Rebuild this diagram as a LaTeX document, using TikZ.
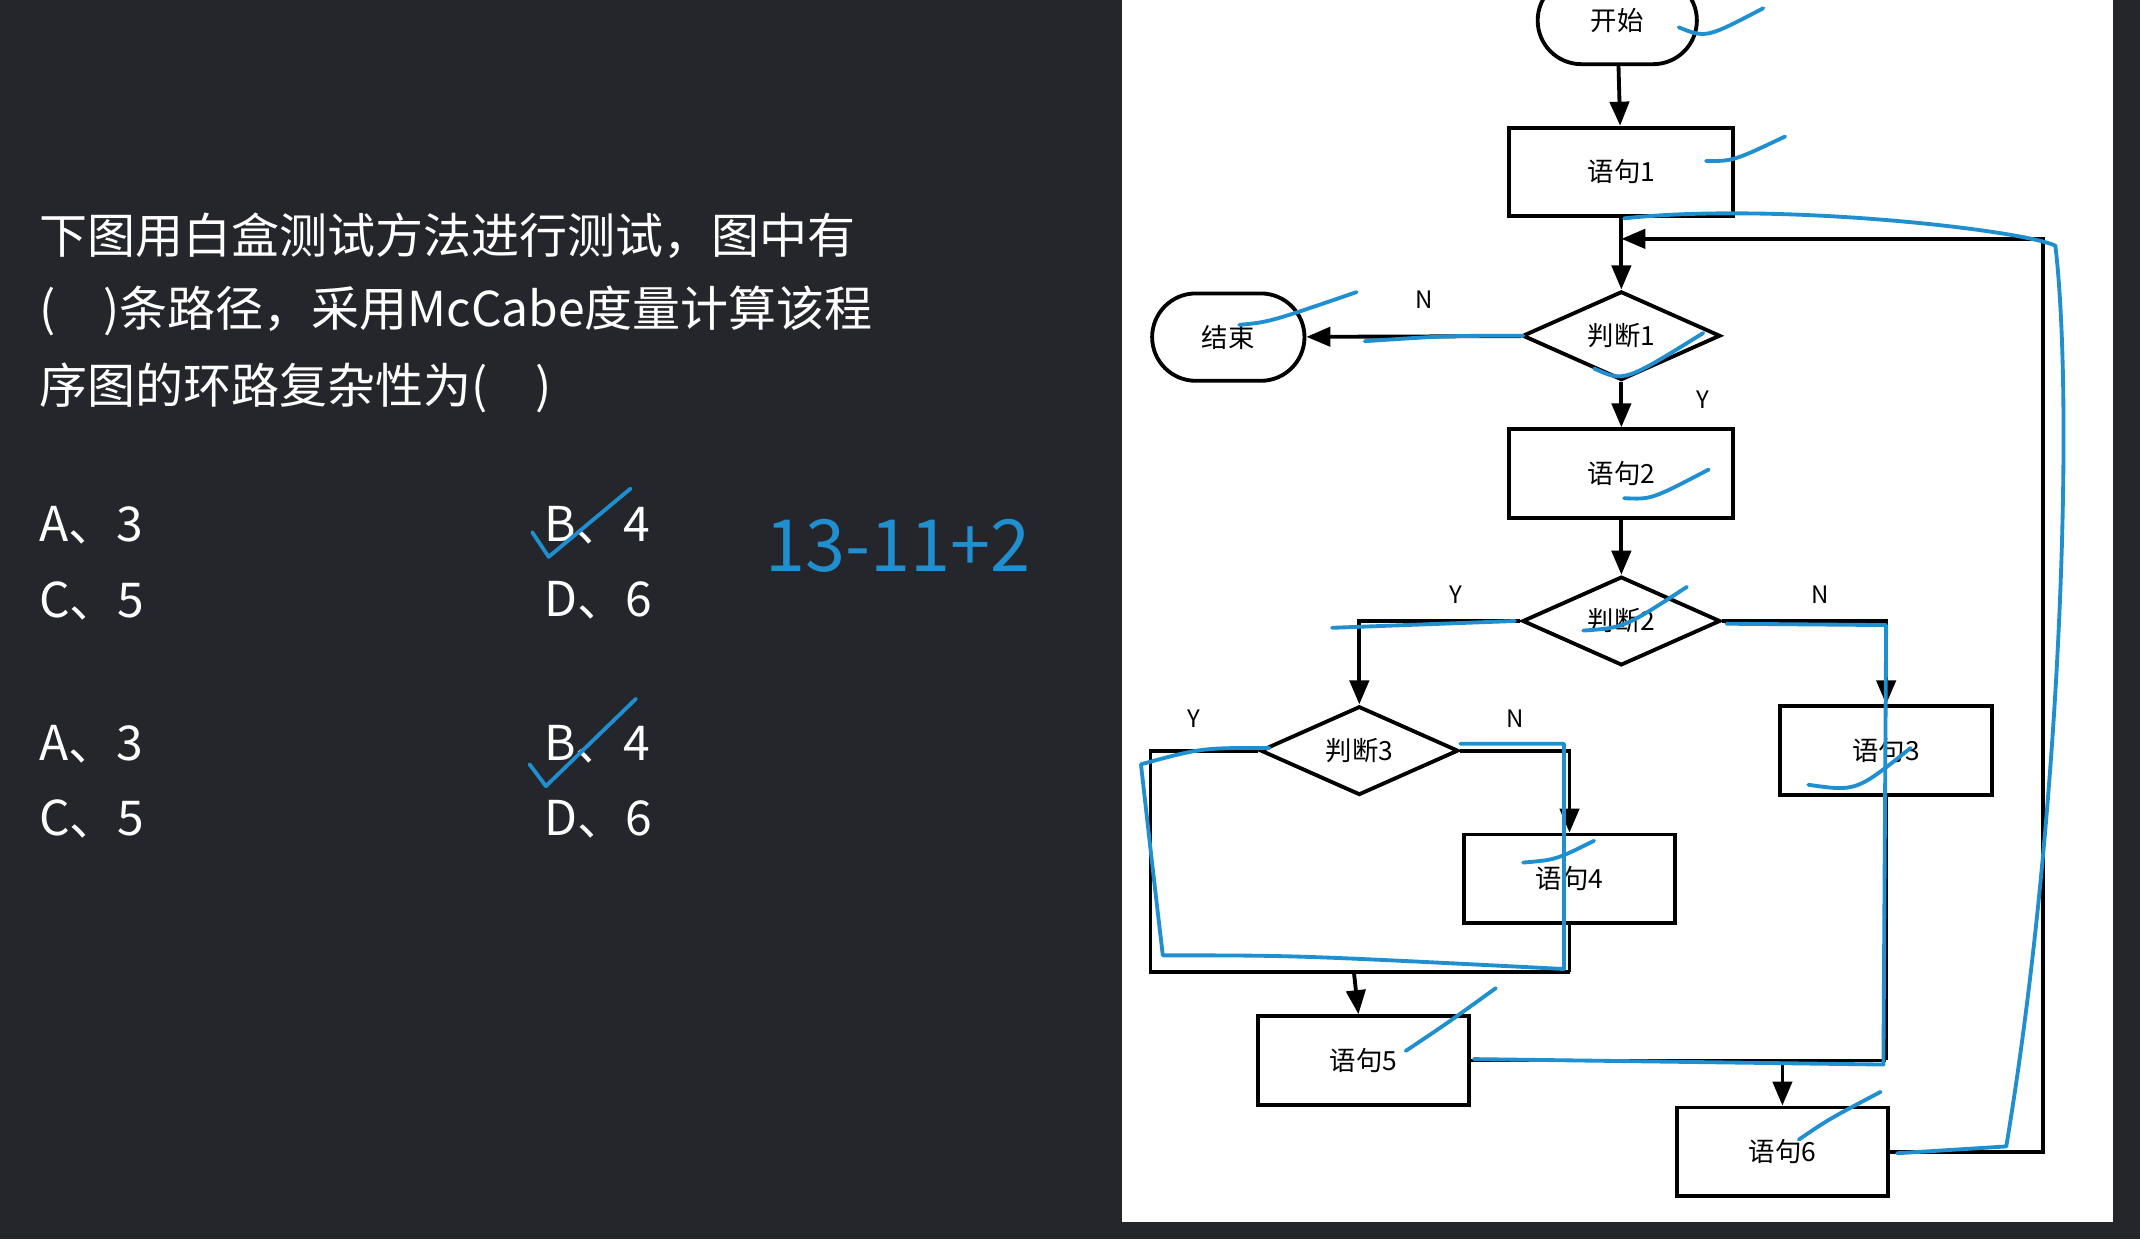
\documentclass[tikz,border=0pt]{standalone}
\usepackage{fontspec}
\setmainfont{Noto Sans CJK SC}
\usetikzlibrary{shapes.geometric,shapes.misc,arrows.meta}
\definecolor{panel}{HTML}{25262B}
\definecolor{pen}{HTML}{1F8FD0}
\begin{document}
\begin{tikzpicture}[x=0.01cm,y=-0.01cm,
  box/.style = {draw,thick,minimum width=1.55cm,minimum height=0.65cm,font=\fontsize{5.5}{6}\selectfont},
  decision/.style = {draw,thick,diamond,aspect=2.2,minimum width=1.45cm,minimum height=0.65cm,inner sep=0pt,font=\fontsize{5.5}{6}\selectfont},
  terminal/.style = {draw,thick,rounded rectangle,minimum width=1.12cm,minimum height=0.64cm,font=\fontsize{5.5}{6}\selectfont},
  flow/.style = {thick,-{Triangle[length=5pt,width=4pt]}},
  yn/.style = {font=\fontsize{5}{6}\selectfont},
  question/.style = {text=white,anchor=west,inner sep=0pt,font=\fontsize{10}{11}\selectfont},
  hand/.style = {pen,thick,line cap=round,line join=round}
  ]
  \fill[panel] (0,0) rectangle (1568,908);
  \fill[white] (822,0) rectangle (1548,895);
  \useasboundingbox (0,0) rectangle (1568,908);
  % question text
  \node[question] (q1) at (28,173) {下图用白盒测试方法进行测试，图中有};
  \node[question] (q2) at (28,228) {(\quad)条路径，采用McCabe度量计算该程};
  \node[question] (q3) at (28,284) {序图的环路复杂性为(\quad)};
  \node[question] (a1) at (28,385) {A、3};
  \node[question] (b1) at (398,385) {B、4};
  \node[question] (c1) at (28,440) {C、5};
  \node[question] (d1o) at (398,440) {D、6};
  \node[question] (a2) at (28,545) {A、3};
  \node[question] (b2) at (398,545) {B、4};
  \node[question] (c2) at (28,600) {C、5};
  \node[question] (d2o) at (398,600) {D、6};
  \node[text=pen,font=\fontsize{15}{16}\selectfont\itshape] (calc) at (658,400) {13-11+2};
  % flowchart
  \node[terminal,minimum width=1.4cm] (start) at (1185,15) {开始};
  \node[box,minimum width=1.64cm] (s1) at (1188,126) {语句1};
  \node[decision] (j1) at (1188,246) {判断1};
  \node[terminal,minimum width=1.35cm] (stop) at (900,247) {结束};
  \node[box,minimum width=1.64cm] (s2) at (1188,347) {语句2};
  \node[decision] (j2) at (1188,455) {判断2};
  \node[decision] (j3) at (996,550) {判断3};
  \node[box] (s3) at (1382,550) {语句3};
  \node[box] (s4) at (1150,644) {语句4};
  \node[box] (s5) at (999,777) {语句5};
  \node[box] (s6) at (1306,844) {语句6};
  \coordinate (loop) at (1188,175);
  \coordinate (merge) at (992,712);
  \coordinate (join) at (1306,777);
  \draw[flow] (start) -- (s1);
  \draw[flow] (s1) -- (j1);
  \draw[flow] (j1) -- node[yn,above,pos=.45,yshift=2pt] {N} (stop);
  \draw[flow] (j1) -- node[yn,right,pos=.4,xshift=12pt] {Y} (s2);
  \draw[flow] (j2.west) -- node[yn,above,pos=.4] {Y} (996,455) -- (j3);
  \draw[flow] (s2) -- (j2);
  \draw[flow] (j2.east) -- node[yn,above,pos=.6] {N} (1382,455) -- (s3);
  \draw[thick] (j3.west) -- node[yn,above,pos=.6,yshift=1pt] {Y} (843,550) -- (843,712) -- (1150,712);
  \draw[flow] (j3.east) -- node[yn,above,pos=.5,yshift=1pt] {N} (1150,550) -- (s4);
  \draw[thick] (s4) -- (1150,712);
  \draw[flow] (merge) -- (s5);
  \draw[thick] (s5) -- (1382,777);
  \draw[thick] (s3) -- (1382,777);
  \draw[flow] (join) -- (s6);
  \draw[flow] (s6.east) -- (1497,844) -- (1497,175) -- (loop);
  % handwritten marks
  \draw[hand] (390,390) -- (402,408) -- (462,358);
  \draw[hand] (388,560) -- (400,576) -- (466,512);
  \draw[hand] (1230,20) .. controls (1250,28) .. (1292,6);
  \draw[hand] (1250,118) .. controls (1270,118) .. (1308,100);
  \draw[hand] (908,238) .. controls (930,236) .. (994,214);
  \draw[hand] (1000,250) .. controls (1060,246) .. (1116,246);
  \draw[hand] (1168,270) .. controls (1190,280) .. (1248,244);
  \draw[hand] (1190,365) .. controls (1210,366) .. (1252,344);
  \draw[hand] (1160,462) .. controls (1190,460) .. (1236,430);
  \draw[hand] (1325,575) .. controls (1360,580) .. (1400,548);
  \draw[hand] (1116,632) .. controls (1140,630) .. (1168,616);
  \draw[hand] (1030,770) .. controls (1060,750) .. (1096,724);
  \draw[hand] (1318,835) .. controls (1340,820) .. (1378,800);
  \draw[hand] (1190,160) .. controls (1300,148) and (1480,168) .. (1506,180)
    .. controls (1520,300) and (1510,600) .. (1470,840) -- (1390,845);
  \draw[hand] (930,548) .. controls (880,548) .. (836,560) .. controls (845,640) .. (852,700)
    .. controls (950,700) .. (1146,710) -- (1146,545) -- (1070,545);
  \draw[hand] (976,460) -- (1110,455);
  \draw[hand] (1265,457) -- (1382,458) -- (1380,780) -- (1080,776);
\end{tikzpicture}
\end{document}
